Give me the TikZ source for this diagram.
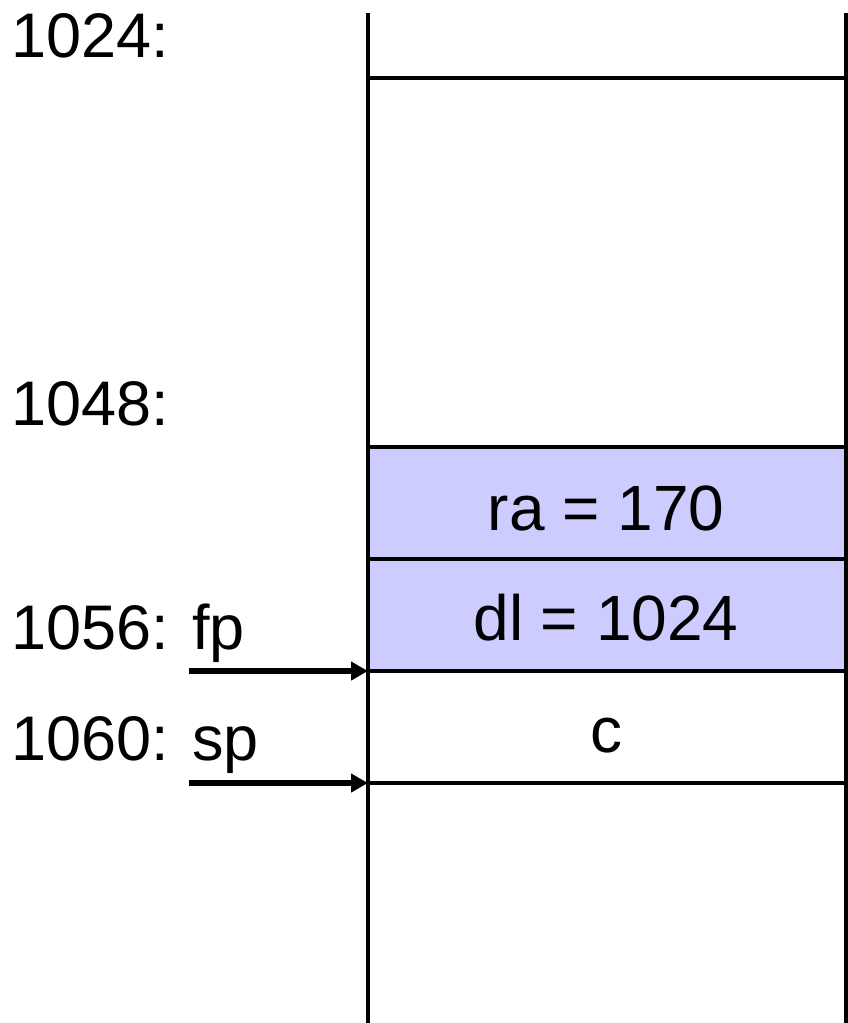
\documentclass[tikz,border=0pt]{standalone}
\usepackage{fontspec}
\setmainfont{Liberation Sans}
\usetikzlibrary{arrows.meta}
\begin{document}
\begin{tikzpicture}[x=1pt,y=-1pt,
  wall/.style={line width=4pt},
  rule/.style={line width=4pt},
  cellfill/.style={fill={rgb,255:red,204;green,204;blue,255}},
  lbl/.style={font=\fontsize{63}{63}\selectfont,inner sep=0pt,anchor=base west},
  celltext/.style={font=\fontsize{64}{64}\selectfont,inner sep=0pt,anchor=base},
  ptr/.style={line width=6.5pt,-{Triangle[length=17pt,width=18pt]}}
]
\useasboundingbox (0,0) rectangle (848,1023);
% blue cells
\fill[cellfill] (368,447) rectangle (846,671);
% horizontal rules
\coordinate (L78) at (368,78);   \coordinate (R78) at (846,78);
\coordinate (L447) at (368,447); \coordinate (R447) at (846,447);
\coordinate (L559) at (368,559); \coordinate (R559) at (846,559);
\coordinate (L671) at (368,671); \coordinate (R671) at (846,671);
\coordinate (L783) at (368,783); \coordinate (R783) at (846,783);
\draw[rule] (L78) -- (R78);
\draw[rule] (L447) -- (R447);
\draw[rule] (L559) -- (R559);
\draw[rule] (L671) -- (R671);
\draw[rule] (L783) -- (R783);
% walls
\coordinate (LT) at (368,13); \coordinate (LB) at (368,1023);
\coordinate (RT) at (846,13); \coordinate (RB) at (846,1023);
\draw[wall] (LT) -- (LB);
\draw[wall] (RT) -- (RB);
% address labels
\node[lbl] (a1024) at (11,57) {1024:};
\node[lbl] (a1048) at (11,425) {1048:};
\node[lbl] (a1056) at (11,649) {1056: fp};
\node[lbl] (a1060) at (11,760) {1060: sp};
% cell contents
\node[celltext] (ra) at (606,530) {ra = 170};
\node[celltext] (dl) at (606,640) {dl = 1024};
\node[celltext] (c) at (606,752) {c};
% pointers
\coordinate (fpstart) at (189,671);
\coordinate (spstart) at (189,783);
\draw[ptr] (fpstart) -- (L671);
\draw[ptr] (spstart) -- (L783);
\end{tikzpicture}
\end{document}
